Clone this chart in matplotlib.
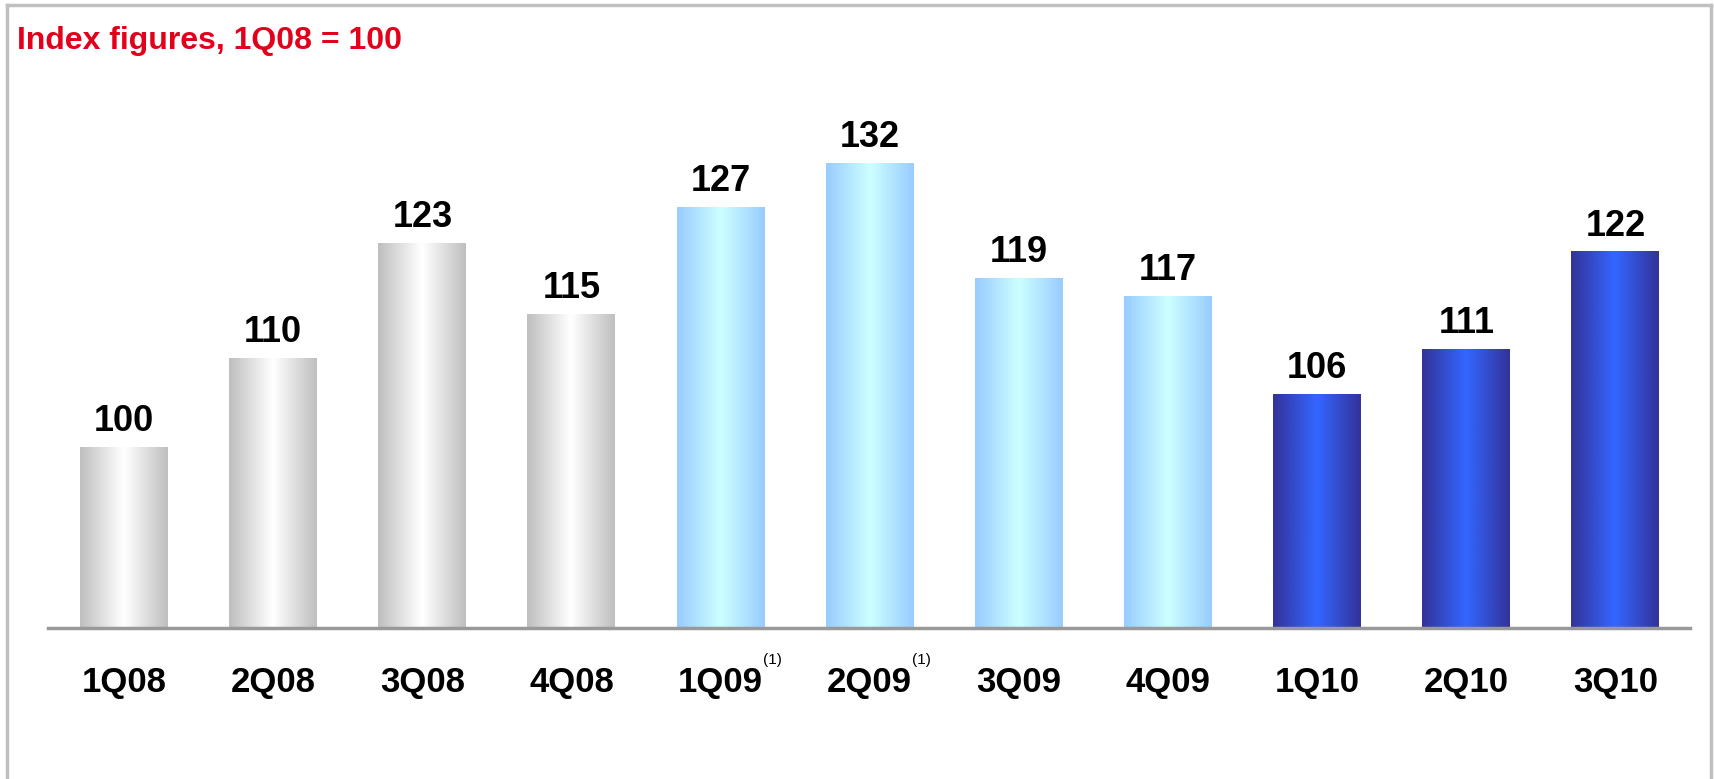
import numpy as np
import matplotlib
matplotlib.use("Agg")
import matplotlib.pyplot as plt
from matplotlib.colors import LinearSegmentedColormap
from matplotlib.lines import Line2D

plt.rcParams['font.family'] = ['Liberation Sans', 'DejaVu Sans']

# Data
quarters = ["1Q08", "2Q08", "3Q08", "4Q08", "1Q09", "2Q09",
            "3Q09", "4Q09", "1Q10", "2Q10", "3Q10"]
values = [100, 110, 123, 115, 127, 132, 119, 117, 106, 111, 122]
footnoted = ["1Q09", "2Q09"]
groups = ["2008"] * 4 + ["2009"] * 4 + ["2010"] * 3

# Gradient colours per year: (edge, centre)
group_colors = {
    "2008": ("#BFBFBF", "#FFFFFF"),
    "2009": ("#99CCFF", "#CCFFFF"),
    "2010": ("#333399", "#3366FF"),
}

y_min, y_max = 79.7, 139.5

fig = plt.figure(figsize=(17.14, 7.79), dpi=100)
ax = fig.add_axes([0.028, 0.1938, 0.958, 0.6824])

x = np.arange(len(quarters))
bars = ax.bar(x, values, width=0.59, bottom=0, color="none", zorder=2)

# Horizontal gradient fill for each bar
grad = np.concatenate([np.linspace(0, 1, 50), np.linspace(1, 0, 50)])[None, :]
for bar, g in zip(bars, groups):
    edge, centre = group_colors[g]
    cmap = LinearSegmentedColormap.from_list(g, [edge, centre])
    bx, by = bar.get_x(), bar.get_y()
    bw, bh = bar.get_width(), bar.get_height()
    ax.imshow(grad, cmap=cmap, aspect="auto", interpolation="bicubic",
              extent=(bx, bx + bw, y_min, by + bh), zorder=1)

ax.set_xlim(-0.51, 10.5)
ax.set_ylim(y_min, y_max)

# Value labels
for xi, v in zip(x, values):
    ax.annotate(str(v), (xi, v), xytext=(0, 6), textcoords="offset points",
                ha="center", va="bottom", fontsize=26, fontweight="bold",
                color="black")

# Axes styling
for s in ["left", "right", "top"]:
    ax.spines[s].set_visible(False)
ax.spines["bottom"].set_color("#999999")
ax.spines["bottom"].set_linewidth(2.5)
ax.spines["bottom"].set_zorder(3)
ax.set_yticks([])
ax.set_xticks(x)
ax.set_xticklabels(quarters, fontsize=25, fontweight="bold")
ax.tick_params(axis="x", length=0, pad=27)

# Footnote markers
for q in footnoted:
    i = quarters.index(q)
    ax.annotate("(1)", (i, 0), xycoords=("data", "axes fraction"),
                xytext=(37, -23), textcoords="offset points",
                ha="center", va="center", fontsize=11)

# Title
fig.text(17 / 1714, 1 - 41 / 779, "Index figures, 1Q08 = 100", color="#E2001A",
         fontsize=23, fontweight="bold", ha="left", va="center")

# Frame
frame = dict(color="#C0C0C0", linewidth=2.5, transform=fig.transFigure)
fig.add_artist(Line2D([7 / 1714, 7 / 1714], [0, 1 - 5 / 779], **frame))
fig.add_artist(Line2D([7 / 1714, 1711 / 1714], [1 - 5 / 779, 1 - 5 / 779], **frame))
fig.add_artist(Line2D([1711 / 1714, 1711 / 1714], [0, 1 - 5 / 779], **frame))

fig.savefig("out.png", dpi=100, facecolor="white")
